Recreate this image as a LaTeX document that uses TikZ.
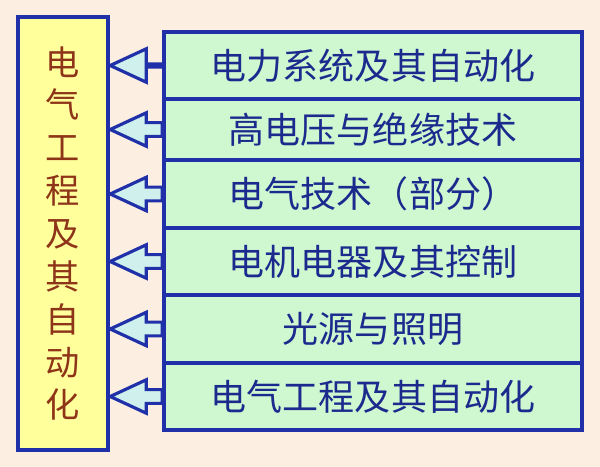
\documentclass[tikz,border=0pt]{standalone}
\usepackage{fontspec}
\newfontfamily\cjk{Noto Sans CJK SC}
\usetikzlibrary{calc}
\usetikzlibrary{positioning}
\definecolor{bgpeach}{HTML}{FCEFE1}
\definecolor{lineblue}{HTML}{2030A8}
\definecolor{textblue}{HTML}{1C2A8E}
\definecolor{textbrown}{HTML}{8E3418}
\definecolor{fillyellow}{HTML}{FFFF9C}
\definecolor{fillgreen}{HTML}{CFF7D0}
\definecolor{fillcyan}{HTML}{CFF0EC}
\tikzset{
    mynodey/.style = {rectangle, draw=lineblue, line width=2.5pt, fill=fillyellow, align=center, text=textbrown, font=\cjk\fontsize{19.5}{24.4}\selectfont, minimum width=1.8cm, minimum height=8.66cm},
    mynodeg/.style = {rectangle, draw=lineblue, line width=2pt, fill=fillgreen, text=textblue, font=\cjk\fontsize{20.5}{24}\selectfont, minimum width=8.36cm, inner sep=0pt},
    shaftw/.store in = \shafthalf, shaftw = 3.9pt,
    edgeh/.style = {draw=lineblue, line width=1.8pt, fill=fillcyan, line join=miter, to path={
        let \p1=(\tikztostart), \p2=(\tikztotarget) in
        (\x1,\y1+\shafthalf) -- (\x2+20.5pt,\y1+\shafthalf) -- (\x2+20.5pt,\y1+9.5pt) -- (\x2,\y1)
        -- (\x2+20.5pt,\y1-9.5pt) -- (\x2+20.5pt,\y1-\shafthalf) -- (\x1,\y1-\shafthalf) -- cycle}}, % hollow block arrow
}

\begin{document}
\begin{tikzpicture}[x=0.02cm, y=-0.02cm]
\fill[bgpeach] (0,0) rectangle (600,467);
\useasboundingbox (0,0) rectangle (600,467);
%
\node[mynodey] at (63, 233.5) (main) {电\\气\\工\\程\\及\\其\\自\\动\\化};
%
\node[mynodeg, minimum height=1.34cm] at (373, 65.5) (s1) {电力系统及其自动化};
\node[mynodeg, minimum height=1.22cm] at (373, 129.5) (s2) {高电压与绝缘技术};
\node[mynodeg, minimum height=1.36cm] at (373, 194) (s3) {电气技术（部分）};
\node[mynodeg, minimum height=1.34cm] at (373, 261.5) (s4) {电机电器及其控制};
\node[mynodeg, minimum height=1.36cm] at (373, 329) (s5) {光源与照明};
\node[mynodeg, minimum height=1.34cm] at (373, 396.5) (s6) {电气工程及其自动化};
%
\draw[edgeh, shaftw=0.9pt] (s1.west) to (main.east |- s1.west);
\draw[edgeh] (s2.west) to (main.east |- s2.west);
\draw[edgeh] (s3.west) to (main.east |- s3.west);
\draw[edgeh] (s4.west) to (main.east |- s4.west);
\draw[edgeh] (s5.west) to (main.east |- s5.west);
\draw[edgeh] (s6.west) to (main.east |- s6.west);

\end{tikzpicture}
\end{document}
